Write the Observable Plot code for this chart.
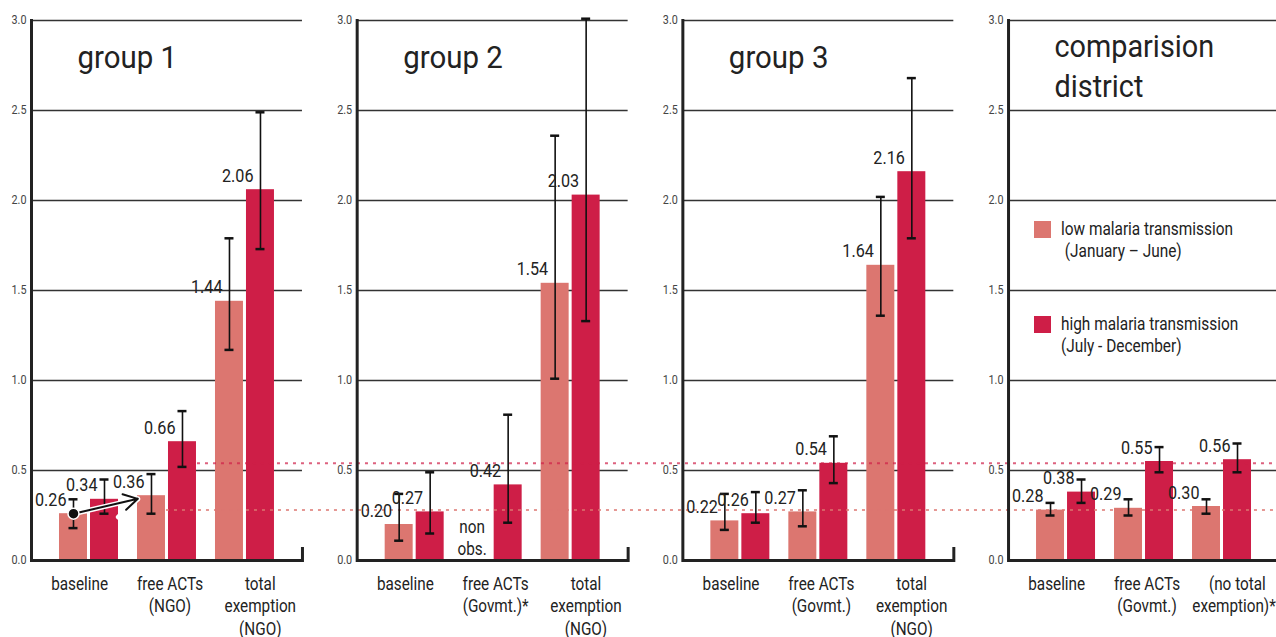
<!DOCTYPE html>
<html><head><meta charset="utf-8">
<script src="https://cdn.jsdelivr.net/npm/d3@7"></script>
<script src="https://cdn.jsdelivr.net/npm/@observablehq/plot@0.6"></script>
<style>
body{margin:0;background:#fff;}
#wrap{position:relative;width:1276px;height:637px;overflow:hidden;font-family:Roboto,"Liberation Sans",sans-serif;color:#222}
.legend{position:absolute;left:1034px;font-size:18px;line-height:22px;color:#222}
.sw{position:absolute;width:17px;height:17px;left:0}
.lt{position:absolute;left:27px;white-space:pre;transform:scaleX(0.855);transform-origin:0 0}
</style></head><body><div id="wrap"></div>
<script>
// ---------- data ----------
const panels = ["group 1", "group 2", "group 3", "comparision\ndistrict"];
const categories = ["baseline", "free ACTs", "total"];
const categoryLabels = [
  ["baseline", "free ACTs\n(NGO)", "total\nexemption\n(NGO)"],
  ["baseline", "free ACTs\n(Govmt.)*", "total\nexemption\n(NGO)"],
  ["baseline", "free ACTs\n(Govmt.)", "total\nexemption\n(NGO)"],
  ["baseline", "free ACTs\n(Govmt.)", "(no total\nexemption)**"]
];
const lowValues   = [[0.26, 0.36, 1.44], [0.20, null, 1.54], [0.22, 0.27, 1.64], [0.28, 0.29, 0.30]];
const lowCILower  = [[0.18, 0.26, 1.17], [0.11, null, 1.01], [0.17, 0.19, 1.36], [0.25, 0.25, 0.26]];
const lowCIUpper  = [[0.34, 0.48, 1.79], [0.37, null, 2.36], [0.37, 0.39, 2.02], [0.32, 0.34, 0.34]];
const highValues  = [[0.34, 0.66, 2.06], [0.27, 0.42, 2.03], [0.26, 0.54, 2.16], [0.38, 0.55, 0.56]];
const highCILower = [[0.26, 0.52, 1.73], [0.15, 0.21, 1.33], [0.21, 0.43, 1.79], [0.32, 0.49, 0.49]];
const highCIUpper = [[0.45, 0.83, 2.49], [0.49, 0.81, 3.01], [0.38, 0.69, 2.68], [0.45, 0.63, 0.65]];
const seriesNames = ["low malaria transmission\n (January – June)", "high malaria transmission\n(July - December)"];
const referenceLevels = [0.28, 0.54];
const yTicks = [0, 0.5, 1, 1.5, 2, 2.5, 3];
const notObservedText = "non\nobs.";

// ---------- style / layout ----------
const lowColor = "#dc7670", highColor = "#ce1e47";
const W = 1276, H = 637, ML = 31, MR = -3, MT = 20, MB = 77;
const fxPad = 0.168, xPadIn = 0.2436, xPadOut = 0.359;
const barInset = 31;
const facetW = (W - ML - MR) / (4 - fxPad) * (1 - fxPad);
const xStep = facetW / (3 - xPadIn + 2 * xPadOut);
const xBW = xStep * (1 - xPadIn);
const xStart = (facetW - xStep * (3 - xPadIn)) / 2;
const barW = xBW - barInset;
const lowDx = barW / 2 - xBW / 2, highDx = xBW / 2 - barW / 2;
const labelDx = categories.map((c, i) => (facetW * (i + 0.5) / 3 + 3) - (xStart + i * xStep + xBW / 2));
const capW = 9;

// horizontal condensing of text (the reference uses a condensed face)
function condenseEl(el, s) {
  const t = el.getAttribute("transform");
  if (t) el.setAttribute("transform", t + ` scale(${s},1)`);
  else {
    const x = +el.getAttribute("x") || 0, y = +el.getAttribute("y") || 0;
    el.removeAttribute("x"); el.removeAttribute("y");
    el.setAttribute("transform", `translate(${x},${y}) scale(${s},1)`);
  }
}
const squeeze = s => (index, scales, values, dimensions, context, next) => {
  const g = next(index, scales, values, dimensions, context);
  d3.select(g).selectAll("text").each(function () { condenseEl(this, s); });
  return g;
};

// ---------- rows ----------
const rows = [];
panels.forEach((p, pi) => categories.forEach((c, ci) => {
  rows.push({panel: p, cat: c, series: "low", value: lowValues[pi][ci], lo: lowCILower[pi][ci], hi: lowCIUpper[pi][ci]});
  rows.push({panel: p, cat: c, series: "high", value: highValues[pi][ci], lo: highCILower[pi][ci], hi: highCIUpper[pi][ci]});
}));
const lowRows = rows.filter(d => d.series === "low" && d.value != null);
const highRows = rows.filter(d => d.series === "high" && d.value != null);
const missingRows = rows.filter(d => d.value == null);
const capsOf = rs => rs.flatMap(d => [{...d, v: d.lo}, {...d, v: d.hi}]);
const labelRows = panels.flatMap((p, pi) => categories.map((c, ci) => ({panel: p, cat: c, label: categoryLabels[pi][ci]})));
const titleRows = panels.map(p => ({panel: p, title: p}));
const arrowRows = [{panel: panels[0], from: categories[0], to: categories[1], y1: lowValues[0][0], y2: lowValues[0][1]}];

// reference levels: drawn from panel 1 (after the free-ACTs bars) across the whole figure
function refLine(value, color, opacity, startAfterHigh) {
  return Plot.ruleY([{panel: panels[0], value}], {
    fx: "panel", y: "value", stroke: color, strokeOpacity: opacity, strokeWidth: 2, strokeDasharray: "3,5",
    render(index, scales, values, dimensions, context, next) {
      const g = next(index, scales, values, dimensions, context);
      d3.select(g).selectAll("line").each(function () {
        const L = +this.getAttribute("x1");
        this.setAttribute("x1", L + xStart + xStep + (startAfterHigh ? xBW : barW) + 1);
        this.setAttribute("x2", L + (W - ML) + 10);
      });
      return g;
    }
  });
}

const chart = Plot.plot({
  width: W, height: H,
  marginLeft: ML, marginRight: MR, marginTop: MT, marginBottom: MB,
  style: {fontFamily: 'Roboto,"Liberation Sans",sans-serif', fontSize: "12px", color: "#222", background: "transparent", overflow: "visible"},
  fx: {domain: panels, axis: null, paddingInner: fxPad, paddingOuter: 0, round: false},
  x: {domain: categories, axis: null, paddingInner: xPadIn, paddingOuter: xPadOut, round: false},
  y: {domain: [0, 3], axis: null},
  marks: [
    Plot.gridY(yTicks, {stroke: "#333", strokeOpacity: 1, strokeWidth: 1.4}),
    Plot.axisY(yTicks, {facetAnchor: null, tickSize: 0, tickPadding: 5, tickFormat: d3.format(".1f"), fontSize: 12, fill: "#444", label: null}),
    Plot.barY(lowRows, {fx: "panel", x: "cat", y: "value", fill: lowColor, insetRight: barInset}),
    Plot.barY(highRows, {fx: "panel", x: "cat", y: "value", fill: highColor, insetLeft: barInset}),
    refLine(referenceLevels[0], lowColor, 0.75, false),
    refLine(referenceLevels[1], highColor, 0.7, true),
    Plot.frame({anchor: "left", stroke: "#222", strokeWidth: 3}),
    Plot.ruleY([0], {stroke: "#222", strokeWidth: 3}),
    Plot.frame({anchor: "right", stroke: "#222", strokeWidth: 3, insetTop: 528}),
    Plot.ruleX(lowRows, {fx: "panel", x: "cat", y1: "lo", y2: "hi", dx: lowDx, stroke: "#111", strokeWidth: 1.6}),
    Plot.ruleX(highRows, {fx: "panel", x: "cat", y1: "lo", y2: "hi", dx: highDx, stroke: "#111", strokeWidth: 1.6}),
    Plot.tickY(capsOf(lowRows), {fx: "panel", x: "cat", y: "v", insetLeft: barW / 2 - capW / 2, insetRight: xBW - barW / 2 - capW / 2, stroke: "#111", strokeWidth: 2.5}),
    Plot.tickY(capsOf(highRows), {fx: "panel", x: "cat", y: "v", insetLeft: xBW - barW / 2 - capW / 2, insetRight: barW / 2 - capW / 2, stroke: "#111", strokeWidth: 2.5}),
    Plot.text(lowRows, {fx: "panel", x: "cat", y: "value", text: d => d.value.toFixed(2), dx: lowDx - 7, dy: -14, textAnchor: "end", fontSize: 19, fill: "#222", render: squeeze(0.85)}),
    Plot.text(highRows, {fx: "panel", x: "cat", y: "value", text: d => d.value.toFixed(2), dx: highDx - 7, dy: -14, textAnchor: "end", fontSize: 19, fill: "#222", render: squeeze(0.85)}),
    Plot.text(missingRows.filter(d => d.series === "low"), {fx: "panel", x: "cat", y: 0, dx: lowDx - 5, dy: -6, text: () => notObservedText, lineAnchor: "bottom", lineHeight: 1.22, fontSize: 18, fill: "#222", render: squeeze(0.85)}),
    Plot.arrow(arrowRows, {fx: "panel", x1: "from", x2: "to", y1: "y1", y2: "y2", dx: lowDx, insetEnd: 14, headLength: 12, stroke: "white", strokeWidth: 5}),
    Plot.arrow(arrowRows, {fx: "panel", x1: "from", x2: "to", y1: "y1", y2: "y2", dx: lowDx, insetEnd: 14, headLength: 12, stroke: "#111", strokeWidth: 2}),
    Plot.dot(arrowRows, {fx: "panel", x: "from", y: "y1", dx: lowDx, r: 5.5, fill: "#111", stroke: "white", strokeWidth: 1.5}),
    ...categories.map((c, ci) => Plot.text(labelRows.filter(d => d.cat === c), {fx: "panel", x: "cat", y: 0, dx: labelDx[ci], dy: 13, text: "label", lineAnchor: "top", lineHeight: 1.26, fontSize: 18, fill: "#222", render: squeeze(0.85)})),
    Plot.text(titleRows.filter(d => !d.title.includes("\n")), {fx: "panel", frameAnchor: "top-left", text: "title", dx: 46, dy: 25, lineAnchor: "top", fontSize: 32, fill: "#222", render: squeeze(0.92)}),
    Plot.text(titleRows.filter(d => d.title.includes("\n")), {fx: "panel", frameAnchor: "top-left", text: "title", dx: 46, dy: 8, lineAnchor: "top", lineHeight: 1.25, fontSize: 32, fill: "#222", render: squeeze(0.9)})
  ]
});

d3.select(chart).selectAll('g[aria-label="y-axis tick label"] text').each(function () { condenseEl(this, 0.9); });

const wrap = document.getElementById("wrap");
wrap.appendChild(chart);

// legend
const legendItems = [{name: seriesNames[0], color: lowColor, top: 221, textTop: 218}, {name: seriesNames[1], color: highColor, top: 316, textTop: 313}];
legendItems.forEach(it => {
  const div = document.createElement("div");
  div.className = "legend";
  div.style.top = it.top + "px";
  const sw = document.createElement("div");
  sw.className = "sw"; sw.style.background = it.color; sw.style.top = "0px";
  const t = document.createElement("div");
  t.className = "lt"; t.style.top = (it.textTop - it.top) + "px"; t.textContent = it.name;
  div.appendChild(sw); div.appendChild(t);
  wrap.appendChild(div);
});
</script></body></html>
